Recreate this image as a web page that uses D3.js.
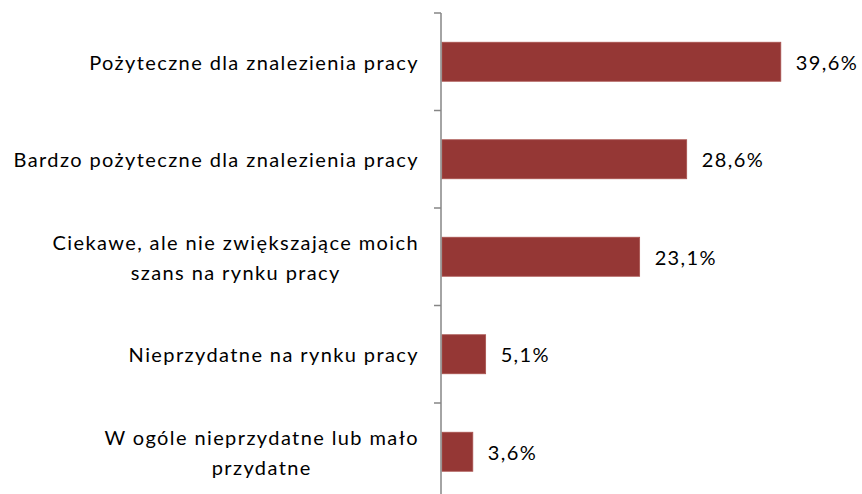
<!DOCTYPE html>
<html>
<head>
<meta charset="utf-8">
<script src="https://cdn.jsdelivr.net/npm/d3@7"></script>
<style>
  body { margin: 0; background: #fff; }
  svg { display: block; font-family: Lato, "Open Sans", sans-serif; }
</style>
</head>
<body>
<svg width="862" height="494"></svg>
<script>
// kategorie i wartości (%)
var categories = [
  "Pożyteczne dla znalezienia pracy",
  "Bardzo pożyteczne dla znalezienia pracy",
  "Ciekawe, ale nie zwiększające moich\nszans na rynku pracy",
  "Nieprzydatne na rynku pracy",
  "W ogóle nieprzydatne lub mało\nprzydatne"
];
var values = [39.6, 28.6, 23.1, 5.1, 3.6];
var valueLabels = ["39,6%", "28,6%", "23,1%", "5,1%", "3,6%"];

var svg = d3.select("svg");

var x = d3.scaleLinear().domain([0, 45]).range([442, 827]);
var y = d3.scaleBand()
    .domain(categories)
    .range([13, 500.5])
    .paddingInner(0.6)
    .paddingOuter(0.3);

var data = categories.map(function(c, i) {
  return { name: c, value: values[i], label: valueLabels[i] };
});

// słupki
svg.append("g").selectAll("rect")
  .data(data)
  .enter().append("rect")
  .attr("x", x(0))
  .attr("y", function(d) { return y(d.name); })
  .attr("width", function(d) { return x(d.value) - x(0); })
  .attr("height", y.bandwidth())
  .attr("fill", "#953735")
  .attr("stroke", "#a9534f")
  .attr("stroke-width", 0.8);

// oś pionowa z kreskami
var axis = svg.append("g").attr("stroke", "#868686").attr("stroke-width", 1.5);
axis.append("line")
  .attr("x1", 441).attr("x2", 441)
  .attr("y1", y.range()[0]).attr("y2", y.range()[1]);
axis.selectAll("line.tick")
  .data(d3.range(categories.length + 1))
  .enter().append("line")
  .attr("class", "tick")
  .attr("x1", 434).attr("x2", 441)
  .attr("y1", function(i) { return y.range()[0] + i * y.step(); })
  .attr("y2", function(i) { return y.range()[0] + i * y.step(); });

// etykiety kategorii
var lineH = 30;
var cat = svg.append("g").selectAll("text")
  .data(data)
  .enter().append("text")
  .attr("font-size", 20)
  .attr("letter-spacing", 1.4)
  .attr("fill", "#000")
  .attr("text-anchor", "middle");

cat.each(function(d) {
  var t = d3.select(this);
  var lines = d.name.split("\n");
  var cy = y(d.name) + y.bandwidth() / 2 + 1 - (lines.length - 1) * lineH / 2;
  lines.forEach(function(l, j) {
    t.append("tspan").attr("y", cy + j * lineH).attr("dy", "0.35em").text(l);
  });
  // najdłuższa linia wyrównana do prawej, pozostałe wyśrodkowane względem niej
  var w = d3.max(t.selectAll("tspan").nodes(), function(n) { return n.getComputedTextLength(); });
  t.selectAll("tspan").attr("x", 419 - w / 2);
});

// etykiety wartości
svg.append("g").selectAll("text")
  .data(data)
  .enter().append("text")
  .attr("font-size", 20)
  .attr("letter-spacing", 1.4)
  .attr("x", function(d) { return x(d.value) + 15; })
  .attr("y", function(d) { return y(d.name) + y.bandwidth() / 2 + 1; })
  .attr("dy", "0.35em")
  .text(function(d) { return d.label; });
</script>
</body>
</html>
